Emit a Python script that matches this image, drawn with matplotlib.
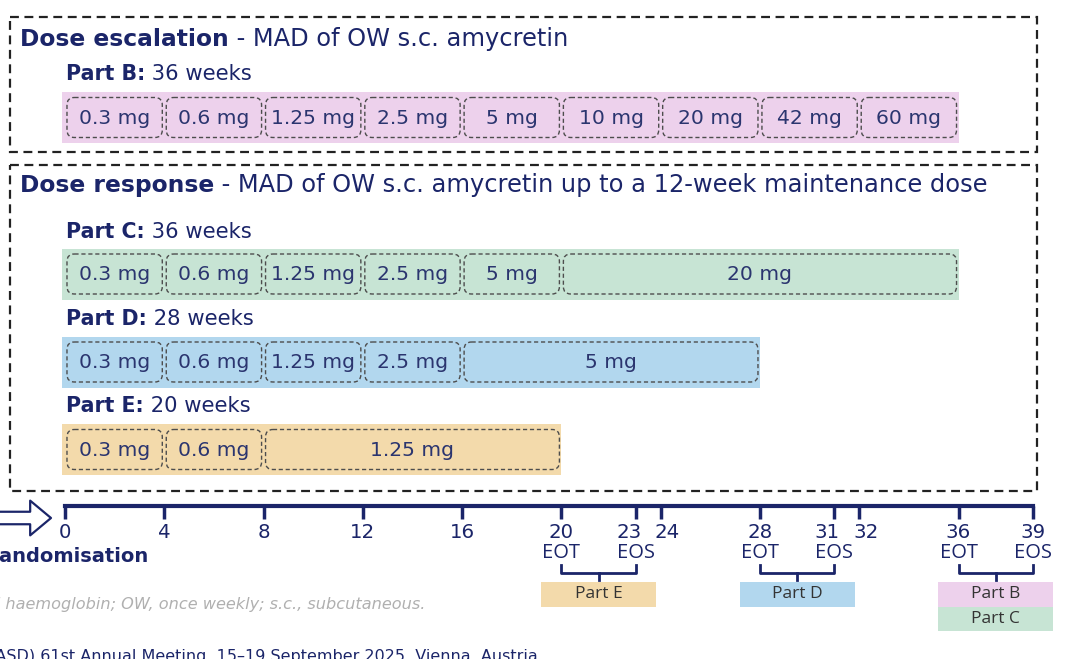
import matplotlib.pyplot as plt
from matplotlib.patches import Rectangle, FancyBboxPatch

# --- chart content -------------------------------------------------------
part_names = ['Part B', 'Part C', 'Part D', 'Part E']
part_weeks = [36, 36, 28, 20]
part_colors = ['#edd1ec', '#c7e4d4', '#b2d7ee', '#f3daab']

b_doses = ['0.3 mg', '0.6 mg', '1.25 mg', '2.5 mg', '5 mg', '10 mg', '20 mg', '42 mg', '60 mg']
b_steps = [4, 4, 4, 4, 4, 4, 4, 4, 4]
c_doses = ['0.3 mg', '0.6 mg', '1.25 mg', '2.5 mg', '5 mg', '20 mg']
c_steps = [4, 4, 4, 4, 4, 16]
d_doses = ['0.3 mg', '0.6 mg', '1.25 mg', '2.5 mg', '5 mg']
d_steps = [4, 4, 4, 4, 12]
e_doses = ['0.3 mg', '0.6 mg', '1.25 mg']
e_steps = [4, 4, 12]

tick_weeks = [0, 4, 8, 12, 16, 20, 23, 24, 28, 31, 32, 36, 39]
eot_weeks = [20, 28, 36]
eos_weeks = [23, 31, 39]
followup_parts = [['Part E'], ['Part D'], ['Part B', 'Part C']]

title1 = ('Dose escalation', ' - MAD of OW s.c. amycretin')
title2 = ('Dose response', ' - MAD of OW s.c. amycretin up to a 12-week maintenance dose')
footnote = 'HbA1c, glycated haemoglobin; OW, once weekly; s.c., subcutaneous.'
meeting = '(EASD) 61st Annual Meeting, 15\u201319 September 2025, Vienna, Austria'

# --- style ---------------------------------------------------------------
NAVY = '#1b2569'
DOSE_TXT = '#2b356f'
PX = 24.82      # pixels per week
X0 = 65         # pixel of week 0
BAR_H = 51
BOX_H = 40
PAD = 0.12
INSET = 0.08

fig = plt.figure(figsize=(10.8, 6.59), dpi=100)
ax = fig.add_axes([0, 0, 1, 1])
ax.set_xlim(-X0 / PX, (1080 - X0) / PX)
ax.set_ylim(659, 0)
ax.axis('off')

color_of = dict(zip(part_names, part_colors))


def rich(x, y, bold, rest, size, rest_size):
    t = ax.text(x, y, bold, fontsize=size, fontweight='bold', color=NAVY,
                ha='left', va='center')
    ax.annotate(rest, xy=(1, 0), xycoords=t, fontsize=rest_size, color=NAVY,
                ha='left', va='bottom')


def dose_row(doses, steps, y, color, total):
    ax.barh(y, total + PAD, height=BAR_H, left=-PAD, color=color, zorder=1)
    start = 0
    for dose, step in zip(doses, steps):
        box = FancyBboxPatch((start + INSET, y - BOX_H / 2), step - 2 * INSET, BOX_H,
                             boxstyle='round,pad=0,rounding_size=0.3',
                             mutation_aspect=PX, fill=False, ec='#4d4d4d',
                             lw=1.0, ls=(0, (3, 2)), zorder=2)
        ax.add_patch(box)
        ax.text(start + step / 2, y + 0.5, dose, fontsize=14.6, color=DOSE_TXT,
                ha='center', va='center', zorder=3)
        start += step


# outer dashed frames
for top, bottom in [(17, 152), (165, 491)]:
    ax.add_patch(Rectangle((-55 / PX, top), 1027 / PX, bottom - top, fill=False,
                           ec='#222222', lw=1.6, ls=(0, (4, 2.5))))

rich(-45 / PX, 39.5, title1[0], title1[1], 16.8, 17.4)
rich(-45 / PX, 185.5, title2[0], title2[1], 16.8, 17.4)

rows = [(b_doses, b_steps, 74, 117.5),
        (c_doses, c_steps, 232, 274),
        (d_doses, d_steps, 319, 362),
        (e_doses, e_steps, 406, 449.5)]
for name, weeks, (doses, steps, ly, by) in zip(part_names, part_weeks, rows):
    rich(0.05, ly, name + ':', ' %d weeks' % weeks, 14.8, 15.2)
    dose_row(doses, steps, by, color_of[name], weeks)

# timeline
TL_Y = 506
ax.plot([0, 39], [TL_Y, TL_Y], color=NAVY, lw=3, solid_capstyle='projecting')
ax.vlines(tick_weeks, TL_Y, TL_Y + 13, color=NAVY, lw=2.5)
nudge = {23: -7, 24: 6, 31: -7, 32: 7}
for w in tick_weeks:
    ax.text(w + nudge.get(w, 0) / PX, 533, str(w), fontsize=14.2, color=NAVY,
            ha='center', va='center')

for w in eot_weeks:
    ax.text(w, 553, 'EOT', fontsize=14.5, family='Open Sans', color=NAVY,
            ha='center', va='center')
for w in eos_weeks:
    ax.text(w, 553, 'EOS', fontsize=14.5, family='Open Sans', color=NAVY,
            ha='center', va='center')

for a, b, names in zip(eot_weeks, eos_weeks, followup_parts):
    ax.plot([a, a, b, b], [565, 573, 573, 565], color=NAVY, lw=2)
    mid = (a + b) / 2
    ax.plot([mid, mid], [573, 580], color=NAVY, lw=2)
    for k, nm in enumerate(names):
        top = 582 + 24.5 * k
        ax.add_patch(Rectangle((mid - 2.32, top), 4.64, 24.5, color=color_of[nm], lw=0))
        ax.text(mid, top + 12.5, nm, fontsize=12.5, family='Open Sans', color='#333333',
                ha='center', va='center')

# randomisation arrow
ax.annotate('', xy=(-14 / PX, 518), xytext=(-75 / PX, 518),
            arrowprops=dict(arrowstyle='simple,head_length=0.75,head_width=1.25,tail_width=0.45',
                            fc='white', ec=NAVY, lw=1.6, mutation_scale=20,
                            shrinkA=0, shrinkB=0))
ax.text(83 / PX, 557, 'Randomisation', fontsize=14, fontweight='bold', color=NAVY,
        ha='right', va='center')

ax.text(360 / PX, 604, footnote, fontsize=11.6, style='italic', color='#b0b0b0',
        ha='right', va='center')
ax.text(473 / PX, 649, meeting, fontsize=11.5, color=NAVY, ha='right', va='top')

fig.savefig('out.png', dpi=100)
